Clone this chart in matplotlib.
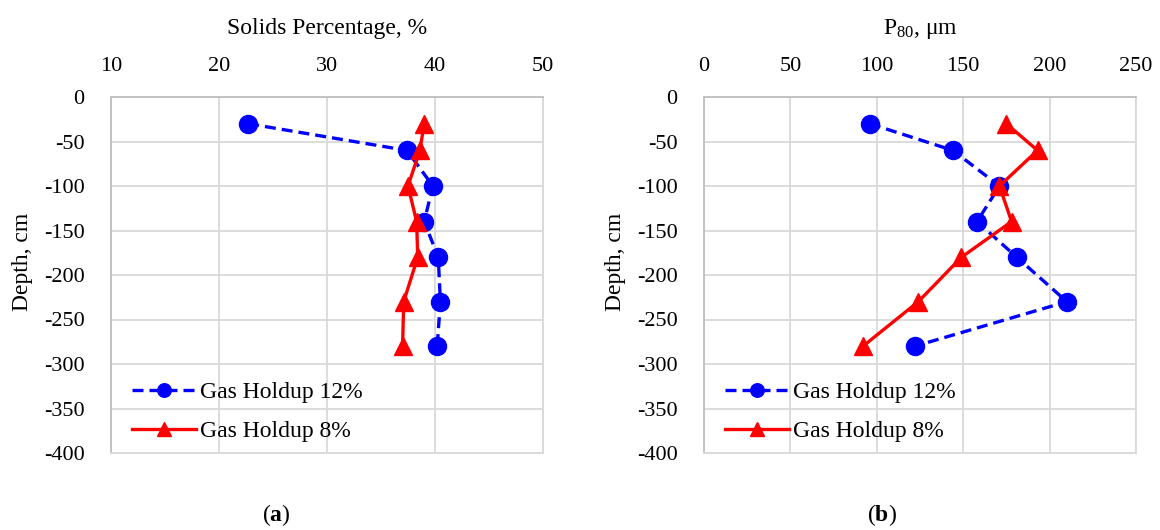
import matplotlib
matplotlib.use("Agg")
import matplotlib.pyplot as plt

plt.rcParams['font.family'] = ['Liberation Serif', 'DejaVu Serif']
plt.rcParams['mathtext.fontset'] = 'custom'
plt.rcParams['mathtext.rm'] = 'Liberation Serif'
plt.rcParams['mathtext.bf'] = 'Liberation Serif:bold'
plt.rcParams['mathtext.it'] = 'Liberation Serif:italic'
plt.rcParams['axes.unicode_minus'] = False

depth = [-30, -60, -100, -140, -180, -230, -280]
solids_12 = [22.7, 37.4, 39.8, 39.0, 40.3, 40.5, 40.2]
solids_8 = [39.0, 38.6, 37.5, 38.3, 38.4, 37.1, 37.0]
p80_12 = [96, 144, 171, 158, 181, 210, 122]
p80_8 = [175, 193, 171, 178, 149, 124, 92]
labels = ["Gas Holdup 12%", "Gas Holdup 8%"]
yticks = list(range(0, -401, -50))
xticks_a = [10, 20, 30, 40, 50]
xticks_b = [0, 50, 100, 150, 200, 250]

fig = plt.figure(figsize=(11.6, 5.3), dpi=100)
W, H = 1160, 530

def make_ax(x0, x1, y0, y1):
    return fig.add_axes([x0 / W, 1 - y1 / H, (x1 - x0) / W, (y1 - y0) / H])

axa = make_ax(111, 543, 97, 453)
axb = make_ax(704, 1136, 97, 453)

grid_c = '#d9d9d9'
fs = 16
fs_txt = 17

def style(ax, xticks, xlabel):
    ax.set_ylim(-400, 0)
    ax.set_xlim(xticks[0], xticks[-1])
    ax.set_xticks(xticks)
    ax.set_yticks(yticks)
    ax.xaxis.tick_top()
    ax.xaxis.set_label_position('top')
    ax.tick_params(length=0, labelsize=fs)
    ax.tick_params(axis='y', pad=19)
    ax.tick_params(axis='x', pad=15)
    ax.grid(True, color=grid_c, linewidth=1.3)
    ax.set_axisbelow(True)
    for s in ax.spines.values():
        s.set_color(grid_c)
        s.set_linewidth(1.3)
    ax.spines['left'].set_color('#bfbfbf')
    ax.spines['top'].set_color('#bfbfbf')
    ax.set_xlabel(xlabel, fontsize=fs_txt, labelpad=17)
    ax.set_ylabel("Depth, cm", fontsize=fs_txt)
    ax.yaxis.set_label_coords(-(111 - 33) / 432, (453 - 262) / 356)

for ax, d12, d8, xt, xl in [(axa, solids_12, solids_8, xticks_a, "Solids Percentage, %"),
                            (axb, p80_12, p80_8, xticks_b, "P$_{80}$, μm")]:
    ax.plot(d12, depth, color='#0000ff', linestyle=(0, (3.3, 1.8)), linewidth=2.4,
            marker='o', markersize=13, label=labels[0], clip_on=False)
    ax.plot(d8, depth, color='#ff0000', linestyle='-', linewidth=2.4,
            marker='^', markersize=13, label=labels[1], clip_on=False)
    style(ax, xt, xl)
    ax.legend(loc='lower left', bbox_to_anchor=((132 - 111) / 432, 11 / 356),
              frameon=False, fontsize=fs_txt, handlelength=2.7, markerscale=0.75,
              handletextpad=0.2, labelspacing=0.75, borderaxespad=0, borderpad=0)

fig.text(276 / W, 1 - 515 / H, r"($\mathbf{a}$)", fontsize=fs_txt, ha='center', va='center')
fig.text(882 / W, 1 - 515 / H, r"($\mathbf{b}$)", fontsize=fs_txt, ha='center', va='center')

fig.savefig("out.png", dpi=100)
